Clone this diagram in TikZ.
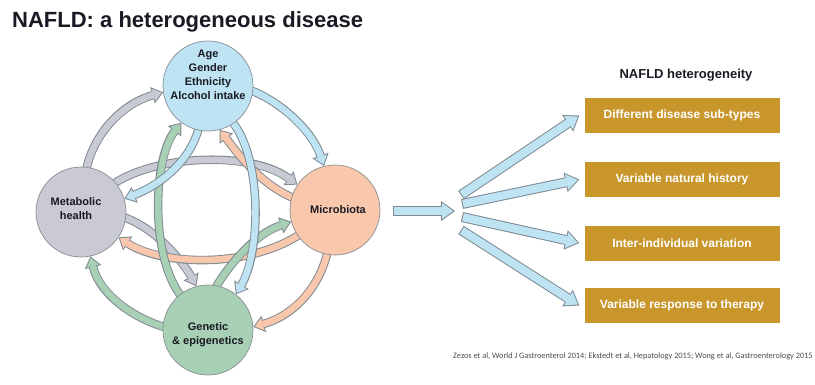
\documentclass[tikz,border=0pt]{standalone}
\usepackage{fontspec}
\setmainfont{Liberation Sans}
\newfontfamily\citefont{Carlito}
\usetikzlibrary{arrows.meta}
\definecolor{cblue}{HTML}{BEE3F3}
\definecolor{cgray}{HTML}{C9CAD3}
\definecolor{cpeach}{HTML}{F9C8AC}
\definecolor{cgreen}{HTML}{A8D0B5}
\definecolor{cedge}{HTML}{8A8F96}
\definecolor{aedge}{HTML}{7F8A92}
\definecolor{gold}{HTML}{C9962C}
\definecolor{tdark}{HTML}{1A1A24}
\pgfdeclarelayer{bg}
\pgfsetlayers{bg,main}
\tikzset{
  circ/.style={circle, minimum size=90pt, inner sep=0pt, draw=cedge, line width=0.7pt},
  ctext/.style={font=\bfseries\fontsize{11}{14}\selectfont, align=center, text=tdark, inner sep=0pt},
  aout/.style={line width=8.5pt, draw=aedge, -{Triangle[length=11pt,width=17pt,line width=0pt]}, shorten <=-8pt},
  ain/.style={line width=6.5pt, shorten >=1.64pt, shorten <=-8pt, -{Triangle[length=8.36pt,width=12.9pt,line width=0pt]}},
  fout/.style={line width=10pt, draw=aedge, -{Triangle[length=14pt,width=20pt,line width=0pt]}},
  fin/.style={line width=8pt, draw=cblue, shorten >=1.72pt, shorten <=1pt, -{Triangle[length=11.28pt,width=16.1pt,line width=0pt]}},
  gbox/.style={fill=gold, minimum width=195pt, minimum height=35pt, inner sep=0pt, text=white, font=\bfseries\fontsize{12}{14}\selectfont},
}
\newcommand\blockarr[2]{\draw[aout] #2; \draw[ain, draw=#1] #2;}
\newcommand\fanarr[1]{\draw[fout] #1; \draw[fin] #1;}
\begin{document}
\begin{tikzpicture}[x=1pt,y=-1pt]
\useasboundingbox (0,0) rectangle (815,384);
\node[anchor=base west, inner sep=0pt, text=tdark, font=\bfseries\fontsize{22}{26}\selectfont] (title) at (12,27) {NAFLD: a heterogeneous disease};

% circles
\node[circ, fill=cblue] (T) at (208,86) {};
\node[circ, fill=cgray] (L) at (81,212) {};
\node[circ, fill=cpeach] (R) at (335,210) {};
\node[circ, fill=cgreen] (B) at (208,330) {};
\node[ctext] (Ttext) at (208,75) {Age\\Gender\\Ethnicity\\Alcohol intake};
\node[ctext] (Ltext) at (76,209) {Metabolic\\health};
\node[ctext] (Rtext) at (338,210) {Microbiota};
\node[ctext] (Btext) at (208,335) {Genetic\\\& epigenetics};

\begin{pgfonlayer}{bg}
\fill[white] (0,0) rectangle (815,384);
% gray
\blockarr{cgray}{(L.83) .. controls (90,140) and (118,105) .. (T.188)}
\blockarr{cgray}{(L.41) .. controls (150,155) and (250,150) .. (R.146)}
\blockarr{cgray}{(L.353) .. controls (155,225) and (185,265) .. (B.105)}
% peach
\blockarr{cpeach}{(R.260) .. controls (322,285) and (295,315) .. (B.4)}
\blockarr{cpeach}{(R.215) .. controls (250,270) and (160,265) .. (L.326)}
\blockarr{cpeach}{(R.164) .. controls (262,188) and (235,150) .. (T.285)}
% green
\blockarr{cgreen}{(B.176) .. controls (135,320) and (100,295) .. (L.282)}
\blockarr{cgreen}{(B.129) .. controls (150,265) and (152,160) .. (T.234)}
\blockarr{cgreen}{(B.79) .. controls (225,270) and (252,235) .. (R.195)}
% blue
\blockarr{cblue}{(T.354) .. controls (270,95) and (310,125) .. (R.104)}
\blockarr{cblue}{(T.258) .. controls (193,160) and (160,185) .. (L.17)}
\blockarr{cblue}{(T.305) .. controls (262,150) and (262,250) .. (B.52)}
\end{pgfonlayer}

% right part
\node[font=\bfseries\fontsize{13}{15}\selectfont, text=tdark] (hdr) at (686,75) {NAFLD heterogeneity};
\node[gbox] (b1) at (682,115.5) {Different disease sub-types};
\node[gbox] (b2) at (682,179.5) {Variable natural history};
\node[gbox] (b3) at (682,243) {Inter-individual variation};
\node[gbox] (b4) at (682,305.5) {Variable response to therapy};

\coordinate (h0) at (393,211);
\coordinate (h1) at (455,211);
\coordinate (f1) at (461,195);
\coordinate (f2) at (462,204);
\coordinate (f3) at (462,217);
\coordinate (f4) at (461,230);
\fanarr{(h0) -- (h1)}
\fanarr{(f1) -- ([xshift=-5pt]b1.west)}
\fanarr{(f2) -- ([xshift=-5pt]b2.west)}
\fanarr{(f3) -- ([xshift=-5pt]b3.west)}
\fanarr{(f4) -- ([xshift=-5pt]b4.west)}

\node[anchor=base west, inner sep=0pt, text=black!70, font=\citefont\fontsize{8.3}{9}\selectfont] (cite) at (453,358) {Zezos et al, World J Gastroenterol 2014; Ekstedt et al, Hepatology 2015; Wong et al, Gastroenterology 2015};
\end{tikzpicture}
\end{document}
